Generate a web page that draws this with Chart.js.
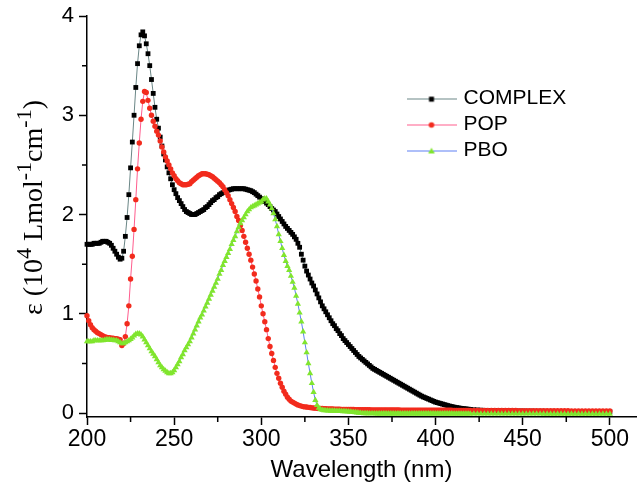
<!DOCTYPE html>
<html><head><meta charset="utf-8">
<script src="https://cdn.jsdelivr.net/npm/chart.js@4/dist/chart.umd.min.js"></script>
<style>html,body{margin:0;padding:0;background:#fff}</style>
</head><body>
<canvas id="c" width="640" height="491"></canvas>
<script>
// ---- DATA ----
const wavelength = [
200,201,202,203,204,205,206,207,208,209,
210,211,212,213,214,215,216,217,218,219,
220,221,222,223,224,225,226,227,228,229,
230,231,232,233,234,235,236,237,238,239,
240,241,242,243,244,245,246,247,248,249,
250,251,252,253,254,255,256,257,258,259,
260,261,262,263,264,265,266,267,268,269,
270,271,272,273,274,275,276,277,278,279,
280,281,282,283,284,285,286,287,288,289,
290,291,292,293,294,295,296,297,298,299,
300,301,302,303,304,305,306,307,308,309,
310,311,312,313,314,315,316,317,318,319,
320,321,322,323,324,325,326,327,328,329,
330,331,332,333,334,335,336,337,338,339,
340,341,342,343,344,345,346,347,348,349,
350,351,352,353,354,355,356,357,358,359,
360,361,362,363,364,365,366,367,368,369,
370,371,372,373,374,375,376,377,378,379,
380,381,382,383,384,385,386,387,388,389,
390,391,392,393,394,395,396,397,398,399,
400,401,402,403,404,405,406,407,408,409,
410,411,412,413,414,415,416,417,418,419,
420,
422,424,426,428,430,432,434,436,438,440,
442,444,446,448,450,452,454,456,458,460,
462,464,466,468,470,472,474,476,478,480,
482,484,486,488,490,492,494,496,498,500];

const complexEps = [
1.70,1.70,1.70,1.70,1.71,1.71,1.71,1.71,1.72,1.73,
1.73,1.73,1.72,1.71,1.69,1.66,1.63,1.60,1.57,1.55,
1.56,1.63,1.78,1.97,2.20,2.47,2.73,3.00,3.28,3.52,
3.70,3.81,3.84,3.80,3.72,3.62,3.50,3.36,3.22,3.08,
2.96,2.87,2.78,2.69,2.61,2.55,2.48,2.42,2.36,2.30,
2.25,2.21,2.17,2.14,2.11,2.08,2.05,2.03,2.02,2.01,
2.00,2.00,2.00,2.01,2.02,2.03,2.04,2.05,2.07,2.08,
2.10,2.12,2.14,2.15,2.17,2.18,2.20,2.21,2.22,2.23,
2.24,2.245,2.25,2.255,2.26,2.26,2.26,2.26,2.26,2.26,
2.26,2.255,2.25,2.245,2.24,2.23,2.22,2.205,2.19,2.175,
2.16,2.145,2.13,2.115,2.10,2.08,2.06,2.045,2.03,2.005,
1.98,1.955,1.93,1.905,1.88,1.86,1.84,1.82,1.80,1.775,
1.75,1.71,1.67,1.60,1.54,1.48,1.43,1.39,1.35,1.31,
1.28,1.24,1.20,1.16,1.12,1.08,1.05,1.02,0.99,0.96,
0.93,0.90,0.88,0.85,0.83,0.80,0.78,0.75,0.73,0.71,
0.69,0.67,0.65,0.63,0.61,0.59,0.57,0.555,0.54,0.525,
0.51,0.495,0.48,0.465,0.45,0.44,0.43,0.42,0.41,0.40,
0.39,0.38,0.37,0.36,0.35,0.34,0.33,0.32,0.31,0.30,
0.29,0.28,0.27,0.26,0.25,0.24,0.23,0.22,0.21,0.20,
0.19,0.18,0.17,0.162,0.155,0.147,0.14,0.132,0.125,0.117,
0.11,0.105,0.10,0.095,0.09,0.085,0.08,0.075,0.07,0.066,
0.062,0.058,0.055,0.052,0.049,0.046,0.044,0.042,0.040,0.038,
0.036,
0.033,0.031,0.029,0.027,0.026,0.025,0.024,0.023,0.022,0.022,
0.021,0.021,0.020,0.020,0.020,0.019,0.019,0.019,0.018,0.018,
0.018,0.017,0.017,0.017,0.016,0.016,0.016,0.015,0.015,0.015,
0.015,0.014,0.014,0.014,0.014,0.013,0.013,0.013,0.012,0.012];

const popEps = [
0.98,0.93,0.89,0.86,0.84,0.825,0.81,0.80,0.79,0.78,
0.77,0.765,0.76,0.758,0.755,0.753,0.75,0.748,0.745,0.74,
0.68,0.70,0.77,0.90,1.08,1.35,1.58,1.85,2.15,2.46,
2.72,2.96,3.14,3.24,3.23,3.15,3.07,3.00,2.94,2.89,
2.84,2.80,2.74,2.68,2.63,2.58,2.54,2.50,2.46,2.42,
2.39,2.36,2.34,2.32,2.31,2.30,2.30,2.30,2.305,2.31,
2.33,2.345,2.36,2.375,2.39,2.40,2.41,2.41,2.41,2.405,
2.40,2.39,2.38,2.365,2.35,2.335,2.32,2.30,2.28,2.25,
2.22,2.19,2.15,2.11,2.07,2.03,1.98,1.94,1.89,1.84,
1.78,1.72,1.66,1.60,1.54,1.47,1.40,1.33,1.25,1.17,
1.08,1.00,0.92,0.84,0.75,0.67,0.60,0.53,0.46,0.40,
0.35,0.30,0.26,0.22,0.19,0.16,0.14,0.12,0.11,0.10,
0.09,0.082,0.075,0.07,0.065,0.062,0.06,0.057,0.055,0.052,
0.05,0.049,0.048,0.047,0.046,0.045,0.044,0.043,0.042,0.041,
0.040,0.040,0.039,0.039,0.038,0.038,0.037,0.037,0.036,0.036,
0.036,0.035,0.035,0.035,0.034,0.034,0.034,0.034,0.033,0.033,
0.033,0.033,0.033,0.032,0.032,0.032,0.032,0.032,0.031,0.031,
0.031,0.031,0.031,0.030,0.030,0.030,0.030,0.030,0.030,0.030,
0.029,0.029,0.029,0.029,0.029,0.029,0.029,0.029,0.029,0.029,
0.029,0.029,0.029,0.028,0.028,0.028,0.028,0.028,0.028,0.028,
0.028,0.028,0.028,0.028,0.028,0.028,0.028,0.028,0.028,0.028,
0.027,0.027,0.027,0.027,0.027,0.027,0.027,0.027,0.027,0.027,
0.027,
0.027,0.027,0.026,0.026,0.026,0.026,0.026,0.025,0.025,0.025,
0.025,0.025,0.025,0.024,0.024,0.024,0.024,0.024,0.024,0.024,
0.023,0.023,0.023,0.023,0.023,0.023,0.023,0.023,0.022,0.022,
0.022,0.022,0.022,0.022,0.022,0.022,0.021,0.021,0.021,0.020];

const pboEps = [
0.72,0.72,0.72,0.72,0.73,0.73,0.73,0.73,0.73,0.73,
0.735,0.74,0.74,0.74,0.735,0.735,0.73,0.73,0.72,0.71,
0.70,0.70,0.71,0.72,0.73,0.745,0.76,0.78,0.795,0.80,
0.80,0.79,0.77,0.74,0.71,0.68,0.65,0.62,0.595,0.57,
0.54,0.51,0.48,0.46,0.44,0.425,0.41,0.40,0.40,0.41,
0.43,0.46,0.49,0.52,0.56,0.59,0.63,0.66,0.69,0.72,
0.76,0.80,0.84,0.88,0.92,0.96,0.99,1.03,1.07,1.11,
1.15,1.19,1.23,1.27,1.31,1.35,1.40,1.44,1.49,1.53,
1.57,1.61,1.65,1.70,1.74,1.78,1.83,1.87,1.91,1.94,
1.97,2.00,2.03,2.05,2.07,2.08,2.09,2.10,2.11,2.12,
2.13,2.15,2.16,2.16,2.13,2.10,2.06,2.01,1.95,1.88,
1.80,1.73,1.66,1.59,1.53,1.48,1.44,1.38,1.32,1.26,
1.18,1.10,1.01,0.92,0.82,0.71,0.61,0.50,0.40,0.30,
0.21,0.13,0.08,0.05,0.037,0.030,0.027,0.025,0.024,0.023,
0.022,0.021,0.021,0.020,0.020,0.019,0.018,0.017,0.016,0.015,
0.014,0.012,0.010,0.008,0.006,0.004,0.002,0.000,-0.002,-0.003,
-0.004,-0.004,-0.005,-0.005,-0.005,-0.005,-0.006,-0.006,-0.006,-0.006,
-0.006,-0.006,-0.006,-0.006,-0.006,-0.006,-0.006,-0.006,-0.006,-0.006,
-0.007,-0.007,-0.007,-0.007,-0.007,-0.007,-0.007,-0.007,-0.007,-0.007,
-0.007,-0.007,-0.007,-0.007,-0.007,-0.007,-0.007,-0.007,-0.007,-0.007,
-0.007,-0.007,-0.007,-0.007,-0.007,-0.007,-0.007,-0.007,-0.007,-0.007,
-0.008,-0.008,-0.008,-0.008,-0.008,-0.008,-0.008,-0.008,-0.008,-0.008,
-0.008,
-0.008,-0.008,-0.008,-0.008,-0.008,-0.008,-0.008,-0.008,-0.008,-0.008,
-0.008,-0.008,-0.008,-0.008,-0.008,-0.008,-0.008,-0.008,-0.008,-0.008,
-0.009,-0.009,-0.009,-0.009,-0.009,-0.009,-0.009,-0.009,-0.009,-0.009,
-0.009,-0.009,-0.009,-0.009,-0.009,-0.009,-0.009,-0.009,-0.009,-0.009];

const seriesNames = ['COMPLEX', 'POP', 'PBO'];
const xTickValues = [200, 250, 300, 350, 400, 450, 500];
const xMinorTickValues = [225, 275, 325, 375, 425, 475];
const yTickValues = [0, 1, 2, 3, 4];
const yMinorTickValues = [0.5, 1.5, 2.5, 3.5];
const xTitle = 'Wavelength (nm)';
const yTitleParts = [['ε (10', 0], ['4', 1], [' Lmol', 0], ['-1', 1], ['cm', 0], ['-1', 1], [')', 0]];

// ---- STYLE ----
const SANS = '"Liberation Sans", Arial, Helvetica, sans-serif';
const SERIF = '"Liberation Serif", "Times New Roman", serif';
const look = {
  COMPLEX: { line: '#6a8686', marker: '#000000', shape: 'rect', r: 3.4 },
  POP:     { line: '#ff5c8d', marker: '#f22b1d', shape: 'circle', r: 2.7 },
  PBO:     { line: '#5d7ff2', marker: '#80e52e', shape: 'triangle', r: 3.6 }
};
const seriesData = { COMPLEX: complexEps, POP: popEps, PBO: pboEps };

function makeIcon(st) {
  const c = document.createElement('canvas');
  c.width = 50; c.height = 10;
  const g = c.getContext('2d');
  g.strokeStyle = st.line; g.lineWidth = 1;
  g.beginPath(); g.moveTo(0, 5.5); g.lineTo(50, 5.5); g.stroke();
  g.fillStyle = st.marker;
  g.beginPath();
  if (st.shape === 'rect') { g.rect(22.5, 3.2, 5, 5); }
  else if (st.shape === 'circle') { g.arc(25, 5.5, 2.8, 0, Math.PI * 2); }
  else { g.moveTo(25, 2.2); g.lineTo(28.3, 8); g.lineTo(21.7, 8); g.closePath(); }
  g.fill();
  return c;
}
const icons = {};
seriesNames.forEach(n => icons[n] = makeIcon(look[n]));

const drawOrder = ['PBO', 'POP', 'COMPLEX']; // index 0 drawn on top
const datasets = drawOrder.map(name => ({
  label: name,
  data: wavelength.map((w, i) => ({ x: w, y: seriesData[name][i] })),
  showLine: true,
  borderColor: look[name].line,
  borderWidth: 1,
  pointStyle: look[name].shape,
  pointRadius: look[name].r,
  pointBackgroundColor: look[name].marker,
  pointBorderColor: look[name].marker,
  pointBorderWidth: 0,
  tension: 0,
  clip: false
}));

const legendPlacement = {
  id: 'legendPlacement',
  afterLayout(chart) {
    const lg = chart.legend; if (!lg) return;
    const ca = chart.chartArea;
    lg.left = ca.left + 318; lg.top = ca.top + 67;
    lg.right = lg.left + 200; lg.bottom = lg.top + 200;
  }
};

const extras = {
  id: 'extras',
  afterDraw(chart) {
    const ctx = chart.ctx, xs = chart.scales.x, ys = chart.scales.y, ca = chart.chartArea;
    ctx.save();
    ctx.strokeStyle = '#000'; ctx.lineWidth = 1.5;
    ctx.beginPath();
    xMinorTickValues.forEach(v => { const p = xs.getPixelForValue(v); ctx.moveTo(p, ca.bottom); ctx.lineTo(p, ca.bottom + 5); });
    yMinorTickValues.forEach(v => { const p = ys.getPixelForValue(v); ctx.moveTo(ca.left, p); ctx.lineTo(ca.left - 5, p); });
    ctx.stroke();
    // y-axis title with superscripts
    ctx.translate(ys.left + 42, (ca.top + ca.bottom) / 2 - 9);
    ctx.rotate(-Math.PI / 2);
    ctx.fillStyle = '#000'; ctx.textBaseline = 'alphabetic'; ctx.textAlign = 'left';
    const big = '28px ' + SERIF, small = '22px ' + SERIF;
    let total = 0;
    yTitleParts.forEach(p => { ctx.font = p[1] ? small : big; total += ctx.measureText(p[0]).width; });
    let x = -total / 2;
    yTitleParts.forEach(p => { ctx.font = p[1] ? small : big; ctx.fillText(p[0], x, p[1] ? -11 : 0); x += ctx.measureText(p[0]).width; });
    ctx.restore();
  }
};

new Chart(document.getElementById('c'), {
  type: 'scatter',
  data: { datasets },
  options: {
    responsive: false, animation: false, devicePixelRatio: 1, events: [],
    layout: { padding: { left: 0, right: 2, top: 13, bottom: 0 } },
    plugins: {
      tooltip: { enabled: false },
      title: { display: false },
      legend: {
        display: true, position: 'chartArea', align: 'start', reverse: true,
        labels: {
          usePointStyle: true, pointStyleWidth: 43, padding: 5, color: '#000',
          font: { family: SANS, size: 21 },
          generateLabels(chart) {
            return chart.data.datasets.map((ds, i) => ({
              text: ds.label, pointStyle: icons[ds.label], datasetIndex: i, hidden: false,
              lineWidth: 0, strokeStyle: 'rgba(0,0,0,0)', fillStyle: 'rgba(0,0,0,0)', fontColor: '#000'
            }));
          }
        }
      }
    },
    scales: {
      x: {
        type: 'linear', min: 200, max: 515,
        afterBuildTicks: s => { s.ticks = xTickValues.map(v => ({ value: v })); },
        afterFit: s => { s.height = 74; },
        border: { display: true, color: '#000', width: 1.5 },
        grid: { display: true, drawOnChartArea: false, drawTicks: true, tickLength: 8, color: '#000', tickWidth: 1.5 },
        ticks: { color: '#000', font: { family: SANS, size: 23, lineHeight: 1 }, padding: 3, maxRotation: 0, autoSkip: false },
        title: { display: true, text: xTitle, color: '#000', font: { family: SANS, size: 24, lineHeight: 1.2 }, padding: { top: 0, bottom: 6 } }
      },
      y: {
        type: 'linear', min: -0.04, max: 4,
        afterBuildTicks: s => { s.ticks = yTickValues.map(v => ({ value: v })); },
        afterFit: s => { s.width = 87; },
        border: { display: true, color: '#000', width: 1.5 },
        grid: { display: true, drawOnChartArea: false, drawTicks: true, tickLength: 8, color: '#000', tickWidth: 1.5 },
        ticks: { color: '#000', font: { family: SANS, size: 22, lineHeight: 1 }, padding: 5 },
        title: { display: false }
      }
    }
  },
  plugins: [legendPlacement, extras]
});
</script>
</body></html>
